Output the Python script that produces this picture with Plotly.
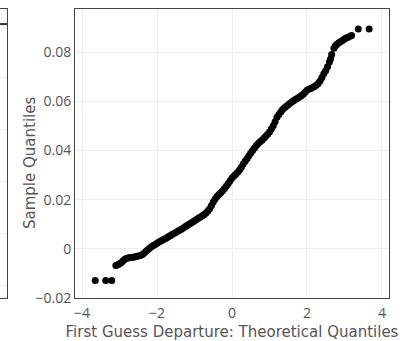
import plotly.graph_objects as go

# Theoretical quantiles (x) and sample quantiles (y)
theo = [-3.65, -3.37, -3.21,
        -3.10, -3.05, -3.00, -2.95, -2.90, -2.85, -2.80, -2.75, -2.70, -2.65, -2.60, -2.55,
        -2.50, -2.45, -2.40, -2.35, -2.30, -2.25, -2.20, -2.15, -2.10, -2.05, -2.00, -1.95,
        -1.90, -1.85, -1.80, -1.75, -1.70, -1.65, -1.60, -1.55, -1.50, -1.45, -1.40, -1.35,
        -1.30, -1.25, -1.20, -1.15, -1.10, -1.05, -1.00, -0.95, -0.90, -0.85, -0.80, -0.75,
        -0.70, -0.65, -0.60, -0.55, -0.50, -0.45, -0.40, -0.35, -0.30, -0.25, -0.20, -0.15,
        -0.10, -0.05, 0.00, 0.05, 0.10, 0.15, 0.20, 0.25, 0.30, 0.35, 0.40, 0.45,
        0.50, 0.55, 0.60, 0.65, 0.70, 0.75, 0.80, 0.85, 0.90, 0.95, 1.00, 1.05,
        1.10, 1.15, 1.20, 1.25, 1.30, 1.35, 1.40, 1.45, 1.50, 1.55, 1.60, 1.65,
        1.70, 1.75, 1.80, 1.85, 1.90, 1.95, 2.00, 2.05, 2.10, 2.15, 2.20, 2.25,
        2.30, 2.35, 2.40, 2.45, 2.50, 2.55, 2.60, 2.63, 2.66, 2.72, 2.76, 2.80,
        2.85, 2.90, 2.95, 3.00, 3.05, 3.10, 3.15, 3.19,
        3.37, 3.66]
sample = [-0.0129, -0.0129, -0.0129,
          -0.0068, -0.0065, -0.0061, -0.0056, -0.0048, -0.0041, -0.0038, -0.0036, -0.0035, -0.0034, -0.0033, -0.0031,
          -0.0029, -0.0027, -0.0024, -0.0018, -0.0011, -0.0004, 0.0002, 0.0008, 0.0013, 0.0018, 0.0023, 0.0028,
          0.0032, 0.0036, 0.0040, 0.0044, 0.0049, 0.0053, 0.0058, 0.0062, 0.0066, 0.0071, 0.0075, 0.0080,
          0.0085, 0.0090, 0.0095, 0.0100, 0.0104, 0.0109, 0.0114, 0.0119, 0.0124, 0.0128, 0.0133, 0.0138,
          0.0145, 0.0153, 0.0162, 0.0175, 0.0190, 0.0203, 0.0213, 0.0221, 0.0228, 0.0236, 0.0245, 0.0255,
          0.0266, 0.0277, 0.0288, 0.0296, 0.0303, 0.0311, 0.0320, 0.0332, 0.0345, 0.0356, 0.0366, 0.0378,
          0.0390, 0.0400, 0.0410, 0.0420, 0.0428, 0.0435, 0.0441, 0.0449, 0.0458, 0.0466, 0.0475, 0.0487,
          0.0500, 0.0517, 0.0535, 0.0546, 0.0556, 0.0566, 0.0574, 0.0580, 0.0586, 0.0592, 0.0598, 0.0603,
          0.0608, 0.0612, 0.0617, 0.0622, 0.0628, 0.0637, 0.0645, 0.0649, 0.0652, 0.0656, 0.0660, 0.0665,
          0.0672, 0.0682, 0.0696, 0.0712, 0.0724, 0.0740, 0.0760, 0.0772, 0.0790, 0.0815, 0.0826, 0.0832,
          0.0838, 0.0843, 0.0847, 0.0853, 0.0857, 0.0860, 0.0864, 0.0867,
          0.0894, 0.0894]

# Partially visible neighbouring panel on the left
left_x = [0, 1]
left_y = [5.02, 5.02]

fig = go.Figure()
fig.add_trace(go.Scatter(x=left_x, y=left_y, mode="lines", line=dict(color="#333", width=2),
                         xaxis="x2", yaxis="y2", showlegend=False, hoverinfo="skip"))
fig.add_trace(go.Scatter(x=theo, y=sample, mode="markers",
                         marker=dict(color="black", size=7), showlegend=False))

W, H = 416, 341
PW = 389  # width of the plotting region (figure width minus right margin)
tfont = dict(family="Open Sans", size=14, color="#555")
ttl_font = dict(family="DejaVu Sans", size=15, color="#555")
axis_common = dict(showline=True, linecolor="#444", linewidth=1, mirror=True,
                   gridcolor="#eeeeee", zeroline=False, ticks="", tickfont=tfont)
fig.update_layout(
    width=W, height=H,
    margin=dict(l=0, r=W - PW, t=9, b=43),
    paper_bgcolor="white", plot_bgcolor="white",
    font=dict(family="Open Sans", size=14, color="#555"),
    xaxis=dict(domain=[75/PW, 1], range=[-4.19, 4.19], tickvals=[-4, -2, 0, 2, 4],
               ticklabelstandoff=2,
               title=dict(text="First Guess Departure: Theoretical Quantiles", font=ttl_font, standoff=7),
               **axis_common),
    yaxis=dict(range=[-0.02, 0.0975], tickvals=[-0.02, 0, 0.02, 0.04, 0.06, 0.08],
               ticktext=["\u22120.02", "0", "0.02", "0.04", "0.06", "0.08"],
               **axis_common),
    xaxis2=dict(domain=[0, 7/PW], range=[0, 1], showticklabels=False, showgrid=False,
                showline=True, linecolor="#444", mirror=True, zeroline=False, anchor="y2"),
    yaxis2=dict(domain=[0, 1], range=[-0.25, 5.31], tickvals=[0, 1, 2, 3, 4], showticklabels=False,
                gridcolor="#eeeeee", showline=True, linecolor="#444", mirror=True,
                zeroline=False, anchor="x2"),
    annotations=[dict(text="Sample Quantiles", textangle=-90, showarrow=False,
                      xref="paper", yref="paper", x=30/PW, y=(298 - 163)/289,
                      xanchor="center", yanchor="middle", font=ttl_font)],
)

fig.write_html("out.html")
